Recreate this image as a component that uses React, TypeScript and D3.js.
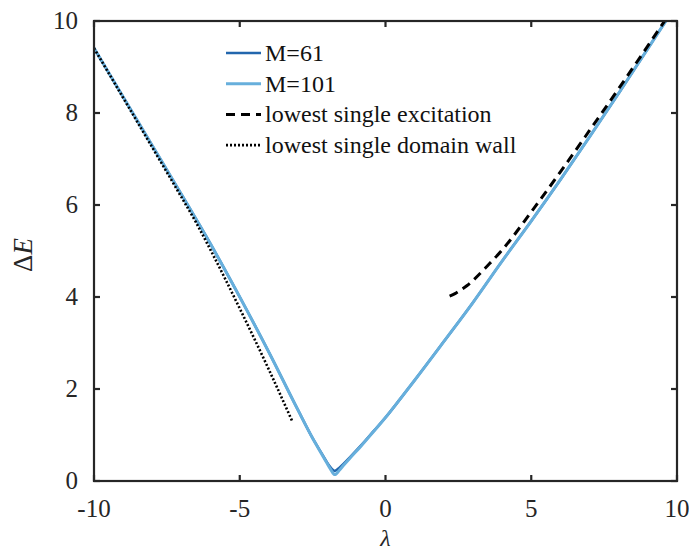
import React, { useEffect, useRef } from 'react';
import * as d3 from 'd3';

// lowest gap vs lambda
const m101Lambda = [-10, -9, -8, -7, -6, -5, -4, -3, -2.5, -2.2, -2, -1.9, -1.8, -1.75, -1.7, -1.6, -1.4, -1.2, -0.8, -0.4, 0, 0.5, 1, 2, 3, 4, 5, 6, 7, 8, 9, 10];
const m101Gap = [9.41, 8.35, 7.29, 6.23, 5.15, 4.0, 2.8, 1.54, 0.93, 0.6, 0.38, 0.27, 0.17, 0.14, 0.15, 0.22, 0.37, 0.51, 0.79, 1.08, 1.38, 1.78, 2.19, 3.03, 3.88, 4.78, 5.65, 6.55, 7.48, 8.43, 9.4, 10.37];
const m61Lambda = [-10, -9, -8, -7, -6, -5, -4, -3, -2.5, -2.2, -2, -1.9, -1.8, -1.75, -1.7, -1.6, -1.4, -1.2, -0.8, -0.4, 0, 0.5, 1, 2, 3, 4, 5, 6, 7, 8, 9, 10];
const m61Gap = [9.41, 8.35, 7.29, 6.23, 5.15, 4.0, 2.8, 1.54, 0.93, 0.61, 0.4, 0.31, 0.24, 0.22, 0.23, 0.28, 0.4, 0.53, 0.8, 1.09, 1.38, 1.78, 2.19, 3.03, 3.88, 4.78, 5.65, 6.55, 7.48, 8.43, 9.4, 10.37];
const excLambda = [2.2, 2.4, 2.6, 2.8, 3, 3.5, 4, 5, 6, 7, 8, 9, 10];
const excGap = [4.02, 4.08, 4.16, 4.25, 4.36, 4.68, 5.02, 5.85, 6.72, 7.62, 8.53, 9.46, 10.4];
const wallLambda = [-10, -9, -8, -7, -6.5, -6, -5, -4, -3.2];
const wallGap = [9.41, 8.33, 7.25, 6.17, 5.62, 5.02, 3.75, 2.42, 1.3];

const xTicks = [-10, -5, 0, 5, 10];
const yTicks = [0, 2, 4, 6, 8, 10];
const legendLabels = ['M=61', 'M=101', 'lowest single excitation', 'lowest single domain wall'];

const App = () => {
  const ref = useRef<SVGSVGElement>(null);

  useEffect(() => {
    const W = 689, H = 551;
    const margin = { top: 21, right: 12, bottom: 70, left: 94 };
    const width = W - margin.left - margin.right;
    const height = H - margin.top - margin.bottom;
    const font = "'Liberation Serif', 'DejaVu Serif', serif";
    const axisColor = '#262626';

    const svg = d3.select(ref.current);
    svg.selectAll('*').remove();

    const x = d3.scaleLinear().domain([-10, 10]).range([0, width]);
    const y = d3.scaleLinear().domain([0, 10]).range([height, 0]);

    svg.append('defs').append('clipPath').attr('id', 'plotclip')
      .append('rect').attr('width', width).attr('height', height);

    const g = svg.append('g').attr('transform', `translate(${margin.left},${margin.top})`);

    const line = d3.line<[number, number]>()
      .x(d => x(d[0]))
      .y(d => y(d[1]))
      .curve(d3.curveMonotoneX);

    const zip = (a: number[], b: number[]) => a.map((v, i) => [v, b[i]] as [number, number]);

    const series = [
      { data: zip(m61Lambda, m61Gap), color: '#2266ad', w: 2.5, dash: null },
      { data: zip(m101Lambda, m101Gap), color: '#67afdc', w: 3, dash: null },
      { data: zip(excLambda, excGap), color: '#000', w: 3, dash: '9,6' },
      { data: zip(wallLambda, wallGap), color: '#000', w: 2.6, dash: '2,2' },
    ];

    const plot = g.append('g').attr('clip-path', 'url(#plotclip)');
    series.forEach(s => {
      plot.append('path')
        .attr('d', line(s.data))
        .attr('fill', 'none')
        .attr('stroke', s.color)
        .attr('stroke-width', s.w)
        .attr('stroke-dasharray', s.dash);
    });

    // axes box with inward ticks on all sides
    const tickLen = 6;
    const axes = g.append('g').attr('stroke', axisColor).attr('stroke-width', 2.2);
    axes.append('rect').attr('width', width).attr('height', height).attr('fill', 'none');
    xTicks.forEach(t => {
      axes.append('line').attr('x1', x(t)).attr('x2', x(t)).attr('y1', height).attr('y2', height - tickLen);
      axes.append('line').attr('x1', x(t)).attr('x2', x(t)).attr('y1', 0).attr('y2', tickLen);
    });
    yTicks.forEach(t => {
      axes.append('line').attr('x1', 0).attr('x2', tickLen).attr('y1', y(t)).attr('y2', y(t));
      axes.append('line').attr('x1', width).attr('x2', width - tickLen).attr('y1', y(t)).attr('y2', y(t));
    });

    g.selectAll('.xt').data(xTicks).enter().append('text')
      .attr('x', d => x(d)).attr('y', height + 36)
      .attr('text-anchor', 'middle')
      .attr('font-family', font).attr('font-size', 25).attr('fill', axisColor)
      .text(d => d);

    g.selectAll('.yt').data(yTicks).enter().append('text')
      .attr('x', -16).attr('y', d => y(d) + 8)
      .attr('text-anchor', 'end')
      .attr('font-family', font).attr('font-size', 25).attr('fill', axisColor)
      .text(d => d);

    g.append('text')
      .attr('x', width / 2).attr('y', H - margin.top - 5)
      .attr('text-anchor', 'middle')
      .attr('font-family', font).attr('font-style', 'italic').attr('font-size', 24).attr('fill', axisColor)
      .text('λ');

    g.append('text')
      .attr('transform', `translate(${-62},${y(5) + 4}) rotate(-90)`)
      .attr('text-anchor', 'middle')
      .attr('font-family', font).attr('font-size', 27).attr('fill', axisColor)
      .call(t => {
        t.append('tspan').text('Δ');
        t.append('tspan').attr('font-style', 'italic').text('E');
      });

    // legend
    const leg = g.append('g').attr('transform', `translate(${226 - margin.left},${53 - margin.top})`);
    series.forEach((s, i) => {
      const row = leg.append('g').attr('transform', `translate(0,${i * 30.7})`);
      row.append('line').attr('x1', 0).attr('x2', 35).attr('y1', 0).attr('y2', 0)
        .attr('stroke', s.color).attr('stroke-width', s.w)
        .attr('stroke-dasharray', s.dash);
      row.append('text').attr('x', 39).attr('y', 8)
        .attr('font-family', font).attr('font-size', 24).attr('fill', '#111')
        .text(legendLabels[i]);
    });
  }, []);

  return (
    <svg ref={ref} width={689} height={551}
      style={{ position: 'absolute', left: 0, top: 0, background: '#fff' }} />
  );
};

export default App;
